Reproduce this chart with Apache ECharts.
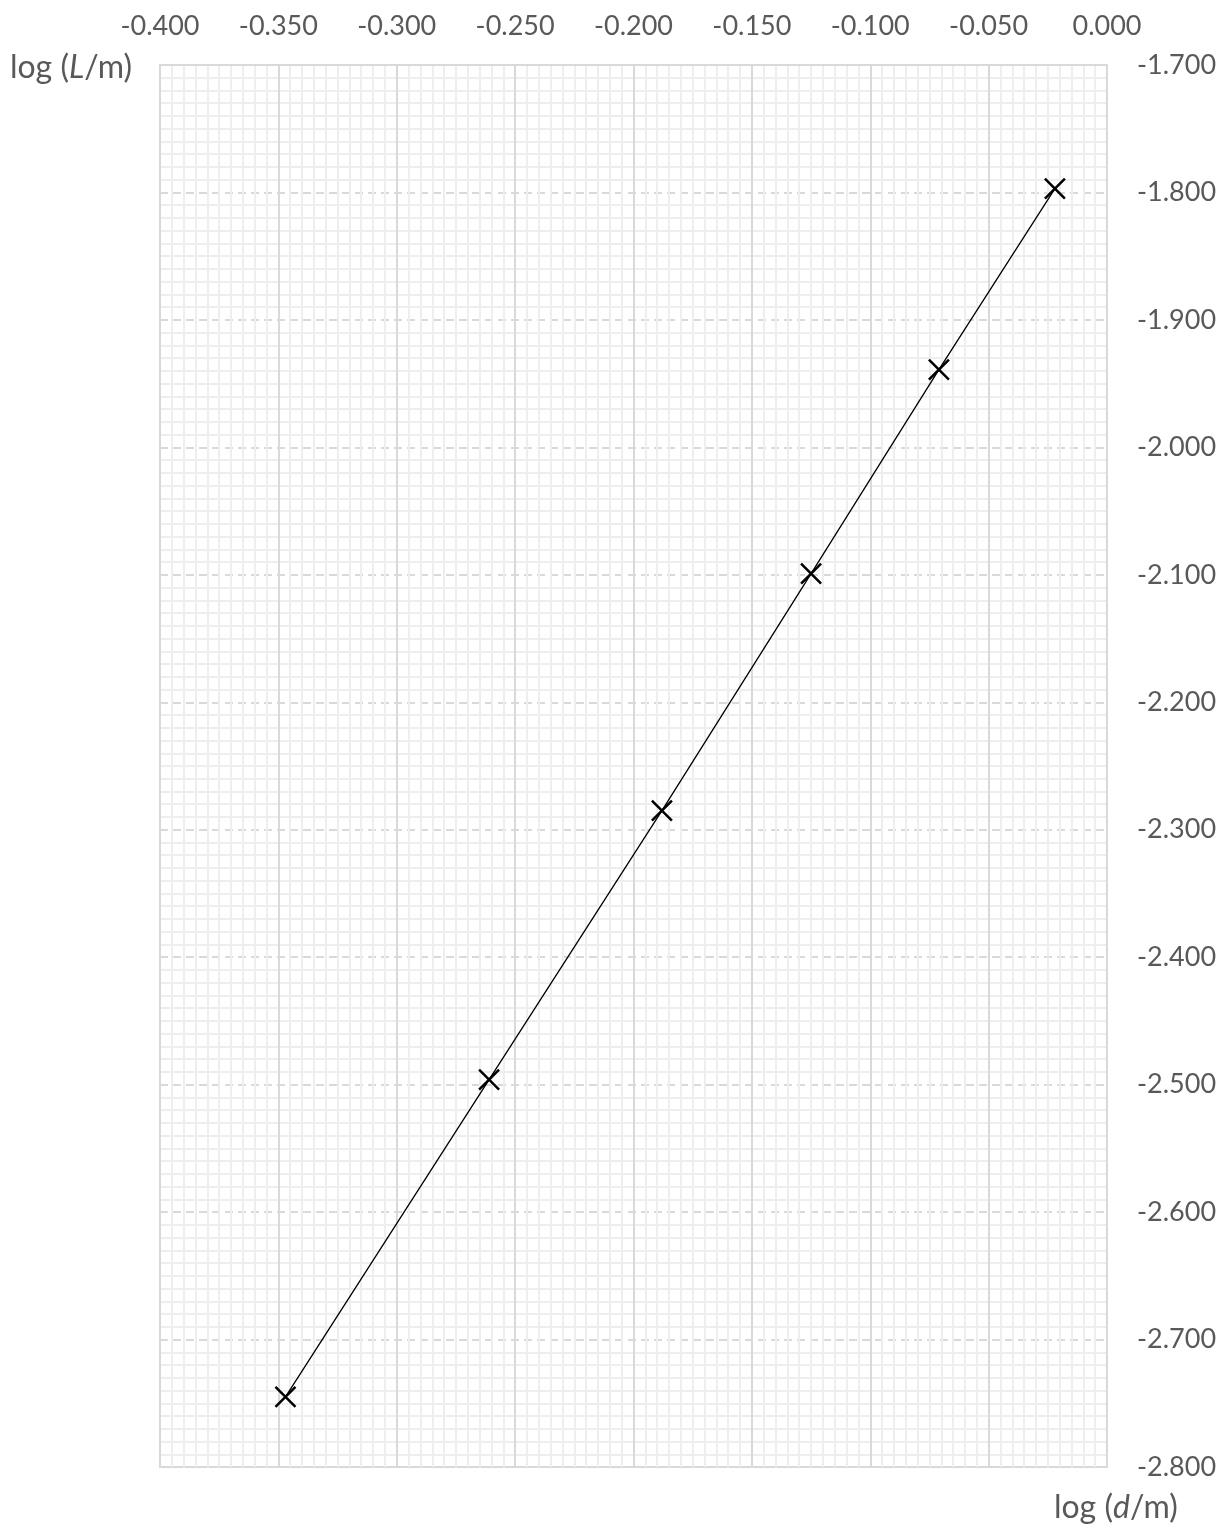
<!DOCTYPE html>
<html>
<head>
<meta charset="utf-8">
<script src="https://cdn.jsdelivr.net/npm/echarts@6/dist/echarts.min.js"></script>
<style>
html,body{margin:0;padding:0;background:#fff;}
#chart{width:1232px;height:1536px;}
</style>
</head>
<body>
<div id="chart"></div>
<script>
var logD = [-0.022, -0.071, -0.125, -0.188, -0.261, -0.347];
var logL = [-1.797, -1.939, -2.099, -2.285, -2.496, -2.745];
var xMin = -0.4, xMax = 0.0, xStep = 0.05;
var yMin = -2.8, yMax = -1.7, yStep = 0.1;

var points = logD.map(function (x, i) { return [x, logL[i]]; });
var FONT = 'Lato, "Open Sans", sans-serif';
var TXT = '#595959';

var chart = echarts.init(document.getElementById('chart'), null, {renderer: 'canvas'});
chart.setOption({
  animation: false,
  backgroundColor: '#fff',
  grid: {left: 160, right: 125, top: 65, bottom: 69, show: true, borderColor: '#d9d9d9', borderWidth: 2, backgroundColor: 'transparent'},
  graphic: [
    {type: 'text', left: 10, top: 52, style: {text: '{n|log (}{i|L}{n|/m)}', rich: {
      n: {fontFamily: FONT, fontSize: 32, fill: TXT},
      i: {fontFamily: FONT, fontSize: 32, fill: TXT, fontStyle: 'italic'}}}},
    {type: 'text', left: 1054, top: 1492, style: {text: '{n|log (}{i|d}{n|/m)}', rich: {
      n: {fontFamily: FONT, fontSize: 32, fill: TXT},
      i: {fontFamily: FONT, fontSize: 32, fill: TXT, fontStyle: 'italic'}}}}
  ],
  xAxis: {
    type: 'value', position: 'top', min: xMin, max: xMax, interval: xStep,
    axisLine: {show: true, lineStyle: {color: '#d9d9d9', width: 2}},
    axisTick: {show: false},
    axisLabel: {margin: 25, fontFamily: FONT, fontSize: 27, color: TXT,
      formatter: function (v) { return v.toFixed(3); }},
    splitLine: {show: true, lineStyle: {color: '#d9d9d9', width: 2}},
    minorTick: {show: false, splitNumber: 10},
    minorSplitLine: {show: true, lineStyle: {color: '#eeeeee', width: 2}}
  },
  yAxis: {
    type: 'value', position: 'right', min: yMin, max: yMax, interval: yStep,
    axisLine: {show: true, lineStyle: {color: '#d9d9d9', width: 2}},
    axisTick: {show: false},
    axisLabel: {margin: 30, fontFamily: FONT, fontSize: 27, color: TXT,
      formatter: function (v) { return v.toFixed(3); }},
    splitLine: {show: true, lineStyle: {color: '#d9d9d9', width: 2, type: [8, 5]}},
    minorTick: {show: false, splitNumber: 10},
    minorSplitLine: {show: true, lineStyle: {color: '#eeeeee', width: 2}}
  },
  series: [{
    type: 'line',
    data: points,
    symbol: 'path://M0,0L10,10M10,0L0,10',
    symbolSize: 20,
    showSymbol: true,
    itemStyle: {color: 'rgba(0,0,0,0)', borderColor: '#000', borderWidth: 2.5},
    lineStyle: {color: '#000', width: 1.3},
    z: 5
  }]
});
</script>
</body>
</html>
